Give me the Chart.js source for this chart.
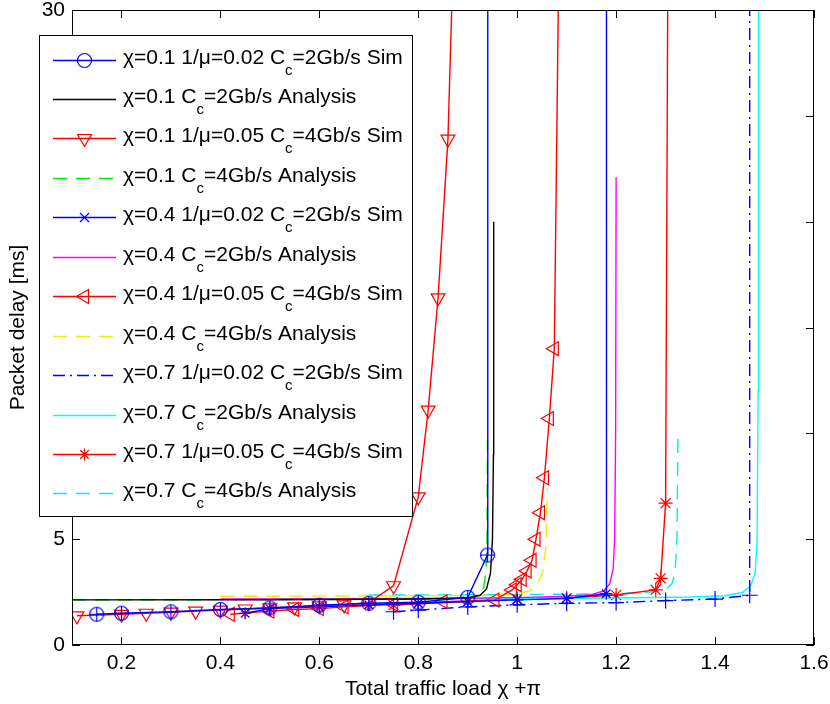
<!DOCTYPE html>
<html><head><meta charset="utf-8">
<script src="https://cdn.jsdelivr.net/npm/chart.js@4.4.1/dist/chart.umd.min.js"></script>
<style>html,body{margin:0;padding:0;background:#fff;}canvas{display:block;}</style>
</head><body>
<div style="width:830px;height:704px;"><canvas id="c" width="830" height="704"></canvas></div>
<script>
// ---------- data ----------
const xTicks = [0.2, 0.4, 0.6, 0.8, 1.0, 1.2, 1.4, 1.6];
const yTicks = [0, 5, 10, 15, 20, 25, 30];
const xTitle = "Total traffic load χ +π";
const yTitle = "Packet delay [ms]";
const seriesLabels = [
  "χ=0.1 1/μ=0.02 Cc=2Gb/s Sim",
  "χ=0.1 Cc=2Gb/s Analysis",
  "χ=0.1 1/μ=0.05 Cc=4Gb/s Sim",
  "χ=0.1 Cc=4Gb/s Analysis",
  "χ=0.4 1/μ=0.02 Cc=2Gb/s Sim",
  "χ=0.4 Cc=2Gb/s Analysis",
  "χ=0.4 1/μ=0.05 Cc=4Gb/s Sim",
  "χ=0.4 Cc=4Gb/s Analysis",
  "χ=0.7 1/μ=0.02 Cc=2Gb/s Sim",
  "χ=0.7 Cc=2Gb/s Analysis",
  "χ=0.7 1/μ=0.05 Cc=4Gb/s Sim",
  "χ=0.7 Cc=4Gb/s Analysis"
];
const s1x = [0.15, 0.2, 0.3, 0.4, 0.5, 0.6, 0.7, 0.8, 0.9, 0.94, 0.9405];
const s1y = [1.45, 1.5, 1.57, 1.68, 1.75, 1.88, 1.97, 2.02, 2.25, 4.25, 500];
const s2x = [0.1, 0.5, 0.8, 0.9, 0.925, 0.938, 0.946, 0.95, 0.952, 0.9525];
const s2y = [2.13, 2.14, 2.17, 2.22, 2.35, 2.65, 3.4, 5, 9, 20];
const s3x = [0.11, 0.2, 0.25, 0.3, 0.35, 0.4, 0.45, 0.5, 0.55, 0.6, 0.65, 0.7, 0.75, 0.8, 0.82, 0.84, 0.86, 0.875];
const s3y = [1.38, 1.45, 1.5, 1.55, 1.6, 1.65, 1.7, 1.75, 1.8, 1.85, 1.9, 2.0, 2.8, 7.0, 11.1, 16.4, 23.9, 36];
const s4x = [0.1, 0.8, 0.9, 0.92, 0.932, 0.937, 0.939, 0.94];
const s4y = [2.13, 2.16, 2.22, 2.35, 2.7, 3.5, 5, 9.7];
const s5x = [0.45, 0.5, 0.6, 0.7, 0.8, 0.9, 1.0, 1.1, 1.18, 1.1805];
const s5y = [1.5, 1.72, 1.8, 1.9, 1.97, 2.05, 2.13, 2.2, 2.42, 500];
const s6x = [0.4, 0.8, 1.0, 1.1, 1.15, 1.175, 1.187, 1.194, 1.197, 1.199, 1.2];
const s6y = [2.17, 2.2, 2.24, 2.3, 2.38, 2.55, 2.9, 3.6, 5, 10, 22.1];
const s7x = [0.42, 0.5, 0.55, 0.6, 0.65, 0.75, 0.85, 0.955, 0.99, 1.0, 1.01, 1.02, 1.03, 1.038, 1.047, 1.055, 1.065, 1.075, 1.088];
const s7y = [1.45, 1.6, 1.68, 1.72, 1.8, 1.92, 2.05, 2.13, 2.6, 2.85, 3.1, 3.5, 4.0, 5.0, 6.25, 7.9, 10.7, 14.0, 40];
const s8x = [0.4, 0.8, 0.95, 1.0, 1.025, 1.042, 1.052, 1.058, 1.061];
const s8y = [2.3, 2.32, 2.36, 2.42, 2.55, 2.9, 3.5, 4.6, 7.4];
const s9x = [0.75, 0.8, 0.9, 1.0, 1.1, 1.2, 1.3, 1.4, 1.47, 1.4705];
const s9y = [1.57, 1.65, 1.8, 1.9, 1.97, 2.0, 2.1, 2.17, 2.35, 500];
const s10x = [0.7, 1.0, 1.2, 1.35, 1.42, 1.455, 1.472, 1.481, 1.485, 1.487, 1.488];
const s10y = [2.18, 2.2, 2.22, 2.27, 2.33, 2.48, 2.8, 3.4, 5, 12, 40];
const s11x = [0.75, 0.8, 0.9, 1.0, 1.1, 1.2, 1.28, 1.29, 1.3, 1.306];
const s11y = [1.88, 1.95, 2.05, 2.18, 2.22, 2.36, 2.6, 3.15, 6.7, 40];
const s12x = [0.7, 1.0, 1.2, 1.27, 1.3, 1.313, 1.319, 1.323, 1.325];
const s12y = [2.36, 2.38, 2.42, 2.5, 2.62, 2.9, 3.4, 5, 9.8];

// ---------- styling ----------
const FONT = '"Liberation Sans", Arial, Helvetica, sans-serif';
const FS = 21;
function pts(xs, ys) { return xs.map((x, i) => ({x: x, y: ys[i]})); }
function circlePlus(r, color) {
  const s = 2 * r + 3, c = document.createElement('canvas');
  c.width = s; c.height = s;
  const g = c.getContext('2d'), m = s / 2;
  g.strokeStyle = color; g.lineWidth = 1.2;
  g.beginPath(); g.arc(m, m, r, 0, Math.PI * 2); g.stroke();
  g.beginPath(); g.moveTo(m - r, m); g.lineTo(m + r, m); g.moveTo(m, m - r); g.lineTo(m, m + r); g.stroke();
  return c;
}
const DASH = [14, 9], DASHDOT = [12, 5, 2, 5];
const styles = [
  {c: '#0000ff', dash: [], ps: circlePlus(7, '#0000ff'), r: 7, rot: 0, lm: 'circle'},
  {c: '#000000', dash: [], ps: false, r: 0, lm: null},
  {c: '#ff0000', dash: [], ps: 'triangle', r: 8, rot: 180, lm: 'tdown'},
  {c: '#00ee00', dash: DASH, ps: false, r: 0, lm: null},
  {c: '#0000ff', dash: [], ps: 'star', r: 6, rot: 0, lm: 'x'},
  {c: '#ff00ff', dash: [], ps: false, r: 0, lm: null},
  {c: '#ff0000', dash: [], ps: 'triangle', r: 8, rot: 270, lm: 'tleft'},
  {c: '#eeee00', dash: DASH, ps: false, r: 0, lm: null},
  {c: '#0000ff', dash: DASHDOT, ps: 'cross', r: 8, rot: 0, lm: null},
  {c: '#00ffff', dash: [], ps: false, r: 0, lm: null},
  {c: '#ff0000', dash: [], ps: 'star', r: 7, rot: 0, lm: 'star'},
  {c: '#00eeee', dash: DASH, ps: false, r: 0, lm: null}
];
const allX = [s1x, s2x, s3x, s4x, s5x, s6x, s7x, s8x, s9x, s10x, s11x, s12x];
const allY = [s1y, s2y, s3y, s4y, s5y, s6y, s7y, s8y, s9y, s10y, s11y, s12y];

const datasets = seriesLabels.map((lab, i) => {
  const st = styles[i];
  return {
    label: lab,
    data: pts(allX[i], allY[i]),
    borderColor: st.c,
    backgroundColor: st.c,
    borderWidth: 1.4,
    borderDash: st.dash,
    pointStyle: st.ps,
    pointRadius: st.ps ? st.r : 0,
    pointRotation: st.rot || 0,
    pointBorderColor: st.c,
    pointBackgroundColor: 'rgba(0,0,0,0)',
    pointBorderWidth: 1.2,
    pointHoverRadius: st.ps ? st.r : 0,
    tension: 0,
    fill: false
  };
});

// ---------- plugins ----------
const frame = {
  id: 'frame',
  afterDatasetsDraw(chart) {
    const ctx = chart.ctx, a = chart.chartArea, xs = chart.scales.x, ys = chart.scales.y;
    ctx.save();
    ctx.strokeStyle = '#000'; ctx.lineWidth = 1; ctx.setLineDash([]);
    ctx.strokeRect(a.left + 0.5, a.top + 0.5, a.right - a.left - 1, a.bottom - a.top - 1);
    const L = 8;
    ctx.beginPath();
    xTicks.forEach(v => {
      const px = Math.round(xs.getPixelForValue(v)) + 0.5;
      ctx.moveTo(px, a.bottom); ctx.lineTo(px, a.bottom - L);
      ctx.moveTo(px, a.top); ctx.lineTo(px, a.top + L);
    });
    yTicks.forEach(v => {
      const py = Math.round(ys.getPixelForValue(v)) + 0.5;
      ctx.moveTo(a.left, py); ctx.lineTo(a.left + L, py);
      ctx.moveTo(a.right, py); ctx.lineTo(a.right - L, py);
    });
    ctx.stroke();
    ctx.restore();
  }
};

function legendMarker(ctx, kind, x, y, color) {
  ctx.strokeStyle = color; ctx.lineWidth = 1.2; ctx.setLineDash([]);
  ctx.beginPath();
  if (kind === 'circle') {
    ctx.arc(x, y, 7, 0, Math.PI * 2);
  } else if (kind === 'tdown') {
    const r = 8;
    ctx.moveTo(x, y + r);
    ctx.lineTo(x - r * 0.866, y - r * 0.5);
    ctx.lineTo(x + r * 0.866, y - r * 0.5);
    ctx.closePath();
  } else if (kind === 'tleft') {
    const r = 8;
    ctx.moveTo(x - r, y);
    ctx.lineTo(x + r * 0.5, y - r * 0.866);
    ctx.lineTo(x + r * 0.5, y + r * 0.866);
    ctx.closePath();
  } else if (kind === 'x') {
    const r = 4.5;
    ctx.moveTo(x - r, y - r); ctx.lineTo(x + r, y + r);
    ctx.moveTo(x - r, y + r); ctx.lineTo(x + r, y - r);
  } else if (kind === 'star') {
    const r = 6, d = r * 0.707;
    ctx.moveTo(x - r, y); ctx.lineTo(x + r, y);
    ctx.moveTo(x, y - r); ctx.lineTo(x, y + r);
    ctx.moveTo(x - d, y - d); ctx.lineTo(x + d, y + d);
    ctx.moveTo(x - d, y + d); ctx.lineTo(x + d, y - d);
  }
  ctx.stroke();
}

const legendBox = {
  id: 'legendBox',
  afterDraw(chart) {
    const ctx = chart.ctx;
    ctx.save();
    const bx = 39.5, by = 35.5, bw = 373, bh = 481;
    ctx.fillStyle = '#fff'; ctx.fillRect(bx, by, bw, bh);
    ctx.strokeStyle = '#000'; ctx.lineWidth = 1; ctx.setLineDash([]);
    ctx.strokeRect(bx, by, bw, bh);
    const sfs = 15;
    seriesLabels.forEach((label, i) => {
      const st = styles[i];
      const y = Math.round(59.5 + i * 39.45) + 0.5;
      ctx.save();
      ctx.strokeStyle = st.c; ctx.lineWidth = 1.6;
      ctx.setLineDash(st.dash);
      ctx.beginPath(); ctx.moveTo(53, y); ctx.lineTo(116, y); ctx.stroke();
      ctx.restore();
      if (st.lm) { ctx.save(); legendMarker(ctx, st.lm, 84.5, y, st.c); ctx.restore(); }
      const k = label.indexOf('Cc');
      const pre = label.slice(0, k + 1), sub = 'c', post = label.slice(k + 2);
      ctx.fillStyle = '#000'; ctx.textBaseline = 'middle'; ctx.textAlign = 'left';
      let tx = 123;
      ctx.font = FS + 'px ' + FONT;
      ctx.fillText(pre, tx, y - 2); tx += ctx.measureText(pre).width;
      ctx.font = sfs + 'px ' + FONT;
      ctx.fillText(sub, tx, y + 10); tx += ctx.measureText(sub).width;
      ctx.font = FS + 'px ' + FONT;
      ctx.fillText(post, tx, y - 2);
    });
    ctx.restore();
  }
};

new Chart(document.getElementById('c'), {
  type: 'line',
  data: {datasets: datasets},
  plugins: [frame, legendBox],
  options: {
    responsive: false,
    animation: false,
    devicePixelRatio: 1,
    layout: {padding: {left: 0, top: 10, right: 16, bottom: 0}},
    plugins: {legend: {display: false}, tooltip: {enabled: false}},
    scales: {
      x: {
        type: 'linear', min: 0.1, max: 1.6,
        afterBuildTicks: s => { s.ticks = xTicks.map(v => ({value: v})); },
        afterFit: s => { s.height = 59; s.paddingLeft = 0; s.paddingRight = 0; },
        grid: {display: false, drawTicks: false},
        border: {display: false},
        ticks: {color: '#000', font: {family: FONT, size: FS}, padding: 6, maxRotation: 0,
          callback: v => String(+v.toFixed(2))},
        title: {display: true, text: xTitle, color: '#000', font: {family: FONT, size: FS}, padding: {top: 0, bottom: 2}}
      },
      y: {
        type: 'linear', min: 0, max: 30,
        afterBuildTicks: s => { s.ticks = yTicks.map(v => ({value: v})); },
        afterFit: s => { s.width = 72; s.paddingTop = 0; s.paddingBottom = 0; },
        grid: {display: false, drawTicks: false},
        border: {display: false},
        ticks: {color: '#000', font: {family: FONT, size: FS}, padding: 7},
        title: {display: true, text: yTitle, color: '#000', font: {family: FONT, size: FS}, padding: {top: 6, bottom: 4}}
      }
    }
  }
});
</script>
</body></html>
